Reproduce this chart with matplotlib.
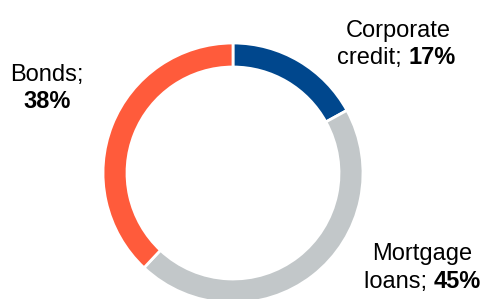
import matplotlib
matplotlib.use("Agg")
from matplotlib import pyplot as plt

# portfolio split
labels = ["Corporate credit", "Mortgage loans", "Bonds"]
shares = [17, 45, 38]
colors = ["#00478D", "#C2C7C9", "#FF5B3B"]

plt.rcParams['font.family'] = ['Liberation Sans', 'DejaVu Sans']

W, H = 486, 299
fig = plt.figure(figsize=(W / 100, H / 100), dpi=100, facecolor='white')
ax = fig.add_axes([0, 0, 1, 1])

# donut, clockwise from 12 o'clock
cx, cy, r = 233, H - 173, 130
ax.pie(shares, colors=colors, startangle=90, counterclock=False,
       center=(cx, cy), radius=r, frame=True,
       wedgeprops=dict(width=24, edgecolor='white', linewidth=2))
ax.set_xlim(0, W)
ax.set_ylim(0, H)
ax.set_aspect('equal')
ax.axis('off')

fs = 17


def two_part(x, y, normal, bold):
    # plain text followed by bold percentage on the same baseline
    t = ax.text(x, y, normal, fontsize=fs, ha='left', va='baseline')
    ax.annotate(bold, xy=(1, 0), xycoords=t, fontsize=fs,
                fontweight='bold', ha='left', va='bottom')


# Corporate credit
ax.text(398, H - 37, "Corporate", fontsize=fs, ha='center', va='baseline')
two_part(337, H - 64, "credit; ", "%d%%" % shares[0])

# Bonds
ax.text(47, H - 81, "Bonds;", fontsize=fs, ha='center', va='baseline')
ax.text(47, H - 108, "%d%%" % shares[2], fontsize=fs, fontweight='bold',
        ha='center', va='baseline')

# Mortgage loans
ax.text(422, H - 260, "Mortgage", fontsize=fs, ha='center', va='baseline')
two_part(364, H - 288, "loans; ", "%d%%" % shares[1])

fig.savefig("out.png", dpi=100, facecolor='white')
